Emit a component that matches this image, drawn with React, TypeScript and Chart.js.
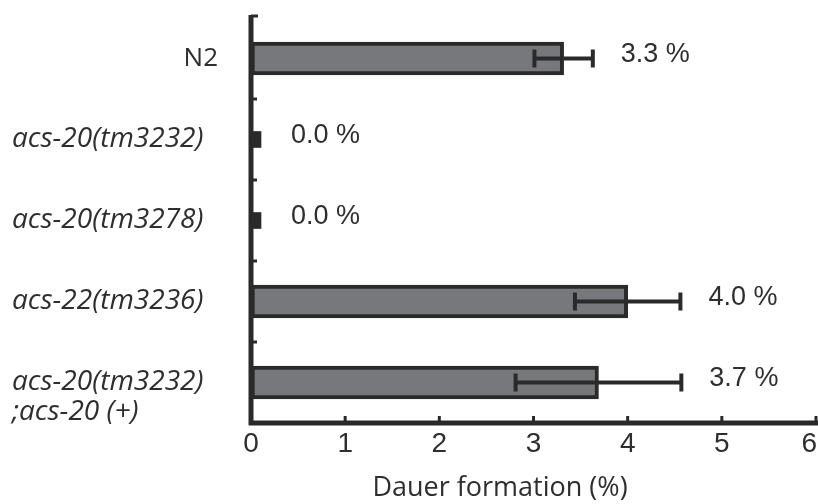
import React, { useEffect, useRef } from 'react';
import { Chart, registerables } from 'chart.js';

Chart.register(...registerables);

const categories = ['N2', 'acs-20(tm3232)', 'acs-20(tm3278)', 'acs-22(tm3236)', 'acs-20(tm3232)\n;acs-20 (+)'];
const italicFlags = [false, true, true, true, true];
const values = [3.32, 0, 0, 4.0, 3.69];
const errors = [0.31, 0, 0, 0.56, 0.88];
const valueLabels = ['3.3 %', '0.0 %', '0.0 %', '4.0 %', '3.7 %'];
const xTicks = [0, 1, 2, 3, 4, 5, 6];
const xTitle = 'Dauer formation (%)';

const INK = '#2a2a2a';
const TEXT = '#2e2e2e';
const BAR_FILL = '#77787b';

const decorPlugin = {
  id: 'decor',
  afterDatasetsDraw(chart: any) {
    const ctx = chart.ctx as CanvasRenderingContext2D;
    const xs = chart.scales.x;
    const ys = chart.scales.y;
    const area = chart.chartArea;
    ctx.save();

    // error bars
    ctx.strokeStyle = INK;
    ctx.lineWidth = 4;
    ctx.lineCap = 'butt';
    values.forEach((v, i) => {
      const e = errors[i];
      if (!e) return;
      const y = ys.getPixelForValue(i);
      const x1 = xs.getPixelForValue(v - e);
      const x2 = xs.getPixelForValue(v + e);
      ctx.beginPath();
      ctx.moveTo(x1, y);
      ctx.lineTo(x2, y);
      ctx.moveTo(x1, y - 9);
      ctx.lineTo(x1, y + 9);
      ctx.moveTo(x2, y - 9);
      ctx.lineTo(x2, y + 9);
      ctx.stroke();
    });

    // axes
    const x0 = xs.getPixelForValue(0);
    ctx.lineWidth = 5;
    ctx.beginPath();
    ctx.moveTo(x0, area.top - 3);
    ctx.lineTo(x0, area.bottom + 2);
    ctx.moveTo(x0 - 2, area.bottom);
    ctx.lineTo(chart.width, area.bottom);
    ctx.stroke();

    // y inward ticks at category boundaries
    ctx.lineWidth = 3;
    const step = ys.getPixelForValue(1) - ys.getPixelForValue(0);
    ctx.beginPath();
    ctx.moveTo(x0, area.top - 2);
    ctx.lineTo(x0 + 7, area.top - 2);
    for (let i = 0; i < categories.length - 1; i++) {
      const yb = ys.getPixelForValue(i) + step / 2;
      ctx.moveTo(x0, yb);
      ctx.lineTo(x0 + 6, yb);
    }
    ctx.stroke();

    // x inward ticks
    ctx.beginPath();
    xTicks.forEach((t) => {
      if (t === 0) return;
      const px = Math.min(xs.getPixelForValue(t), chart.width - 2);
      ctx.moveTo(px, area.bottom);
      ctx.lineTo(px, area.bottom - 7);
    });
    ctx.stroke();

    // value labels
    ctx.fillStyle = TEXT;
    ctx.font = '27px "Liberation Sans", Arial, sans-serif';
    ctx.textAlign = 'left';
    ctx.textBaseline = 'middle';
    valueLabels.forEach((lab, i) => {
      const y = ys.getPixelForValue(i) - 4;
      const end = values[i] + errors[i];
      const px = end > 0 ? xs.getPixelForValue(end) + 28 : xs.getPixelForValue(0) + 40;
      ctx.fillText(lab, px, y);
    });

    // category labels
    categories.forEach((cat, i) => {
      const y = ys.getPixelForValue(i);
      const lines = cat.split('\n');
      if (italicFlags[i]) {
        ctx.font = 'italic 28px "Open Sans", sans-serif';
        ctx.textAlign = 'left';
        lines.forEach((ln, k) => ctx.fillText(ln, 12, y + k * 30));
      } else {
        ctx.font = '26px "Open Sans", sans-serif';
        ctx.textAlign = 'right';
        lines.forEach((ln, k) => ctx.fillText(ln, 218, y + k * 30));
      }
    });

    // x tick labels
    ctx.font = '28px "Liberation Sans", Arial, sans-serif';
    ctx.textAlign = 'center';
    xTicks.forEach((t) => {
      const label = String(t);
      const w = ctx.measureText(label).width;
      let px = xs.getPixelForValue(t);
      px = Math.min(px, chart.width - w / 2 - 1);
      ctx.fillText(label, px, area.bottom + 21);
    });

    // x title
    ctx.font = '27px "Open Sans", sans-serif';
    ctx.fillText(xTitle, 500, 488);

    ctx.restore();
  },
};

export default function App() {
  const ref = useRef<HTMLCanvasElement>(null);
  useEffect(() => {
    if (!ref.current) return;
    const chart = new Chart(ref.current, {
      type: 'bar',
      data: {
        labels: categories,
        datasets: [
          {
            data: values.map((v) => (v > 0 ? v : null)),
            backgroundColor: BAR_FILL,
            borderColor: INK,
            borderWidth: 4,
            borderSkipped: false,
            barThickness: 33,
            grouped: false,
          } as any,
          {
            data: values.map((v) => (v === 0 ? 0 : null)),
            backgroundColor: INK,
            borderWidth: 0,
            barThickness: 16,
            minBarLength: 10,
            grouped: false,
          } as any,
        ],
      },
      options: {
        indexAxis: 'y',
        responsive: false,
        animation: false,
        devicePixelRatio: 1,
        layout: { padding: { left: 251, top: 18, right: 2, bottom: 81 } },
        plugins: { legend: { display: false }, tooltip: { enabled: false }, title: { display: false } },
        scales: {
          x: { type: 'linear', min: 0, max: 6, display: false },
          y: { type: 'category', offset: true, display: false },
        },
      },
      plugins: [decorPlugin],
    });
    return () => chart.destroy();
  }, []);
  return (
    <div style={{ position: 'fixed', left: 0, top: 0, width: 818, height: 504, background: '#fff' }}>
      <canvas ref={ref} width={818} height={504} style={{ width: 818, height: 504, display: 'block' }} />
    </div>
  );
}
